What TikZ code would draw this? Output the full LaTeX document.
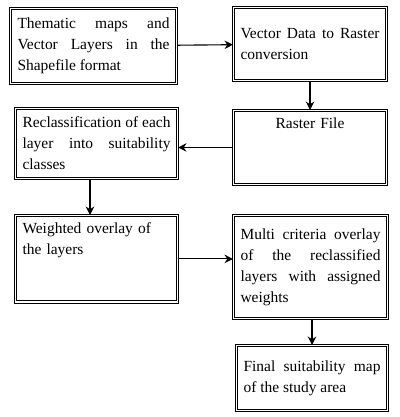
\documentclass[tikz,border=0pt]{standalone}
\usepackage{fontspec}
\setmainfont{Liberation Serif}
\usetikzlibrary{positioning,arrows.meta}

\tikzset{
  stagebox/.style={draw, double, double distance=1.2pt, line width=0.7pt,
    anchor=north west, align=justify, inner sep=5pt,
    font=\fontsize{11}{15}\selectfont,
    execute at begin node={\hyphenpenalty=10000\relax\tolerance=9999\relax}},
  flow/.style={-{Stealth[length=6pt,width=6pt]}, line width=0.8pt}
}

\begin{document}
\begin{tikzpicture}
  \useasboundingbox (0,0) rectangle (10,-10.425);
  % left column
  \node[stagebox, text width=3.8cm, minimum height=1.875cm] (maps) at (0.25,-0.2)
    {Thematic maps and Vector Layers in the Shapefile format};
  \node[stagebox, text width=3.7cm, minimum height=1.75cm] (reclass) at (0.375,-2.7)
    {Reclassification of each layer into suitability classes};
  \node[stagebox, text width=3.7cm, minimum height=1.8cm, align=left] (overlay) at (0.375,-5.375)
    {Weighted overlay of the layers\\[14pt]\mbox{}};
  % right column
  \node[stagebox, text width=3.475cm, minimum height=1.825cm] (vector) at (5.825,-0.175)
    {Vector Data to Raster conversion};
  \node[stagebox, text width=3.475cm, minimum height=1.55cm, align=center] (raster) at (5.825,-2.75)
    {Raster File\\[20pt]\mbox{}};
  \node[stagebox, text width=3.5cm, minimum height=2.575cm] (combine) at (5.825,-5.375)
    {Multi criteria overlay of the reclassified layers with assigned weights};
  \node[stagebox, text width=3.425cm, minimum height=1.625cm] (final) at (5.9,-8.625)
    {Final suitability map of the study area};

  \draw[flow] (maps) -- (vector);
  \draw[flow] (vector) -- (raster);
  \draw[flow] (raster.west) -- (reclass.east |- raster.west);
  \draw[flow] (reclass.south -| 2.25,0) -- (overlay.north -| 2.25,0);
  \draw[flow] (overlay.east) -- (overlay.east -| combine.west);
  \draw[flow] (combine.south -| final.north) -- (final.north);
\end{tikzpicture}
\end{document}
